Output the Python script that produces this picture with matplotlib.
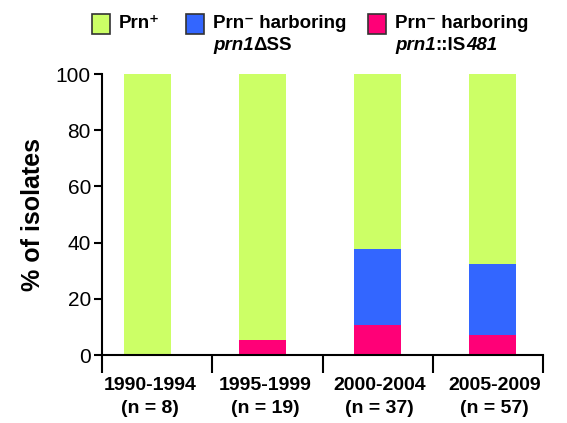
import numpy as np
import matplotlib
matplotlib.use('Agg')
import matplotlib.pyplot as plt
from matplotlib.patches import Rectangle

plt.rcParams['font.family'] = ['Liberation Sans', 'DejaVu Sans']

periods = ['1990-1994', '1995-1999', '2000-2004', '2005-2009']
counts = [8, 19, 37, 57]
is481 = np.array([0, 5.3, 10.8, 7.0])      # Prn- harboring prn1::IS481
dss = np.array([0, 0, 27.0, 25.4])         # Prn- harboring prn1dSS
prn_pos = 100 - is481 - dss                # Prn+

green = '#CCFF66'
blue = '#3366FF'
pink = '#FF0077'

fig = plt.figure(figsize=(5.67, 4.23), dpi=100)
ax = fig.add_axes([102/567, 1-355/423, 441/567, 281/423])

x = np.arange(len(periods))
w = 0.41
ax.bar(x, is481, w, color=pink, edgecolor='none')
ax.bar(x, dss, w, bottom=is481, color=blue, edgecolor='none')
ax.bar(x, prn_pos, w, bottom=is481 + dss, color=green, edgecolor='none')

x0, x1 = -0.396, 3.439
ax.set_xlim(x0, x1)
ax.set_ylim(0, 100)
bounds = np.linspace(x0, x1, 5)
ax.set_xticks(bounds)
ax.set_xticklabels([])
for xi, p, n in zip(x, periods, counts):
    ax.text(xi + 0.02, -8, '%s\n(n = %d)' % (p, n),
            ha='center', va='top', fontsize=14, fontweight='bold',
            transform=ax.transData, linespacing=1.4)
ax.set_yticks([0, 20, 40, 60, 80, 100])
ax.tick_params(axis='y', labelsize=15, length=6, width=1.5, pad=2)
ax.tick_params(axis='x', length=13, width=1.5)
for s in ['top', 'right']:
    ax.spines[s].set_visible(False)
for s in ['left', 'bottom']:
    ax.spines[s].set_linewidth(1.5)
ax.set_ylabel('% of isolates', fontsize=18, fontweight='bold', labelpad=8)

# legend, drawn piece by piece so italics can mix with upright text
renderer = fig.canvas.get_renderer()

def put_line(px, py, pieces):
    for s, style in pieces:
        t = fig.text(px/567, 1-py/423, s, fontsize=13.5, fontweight='bold',
                     fontstyle=style, va='center', ha='left')
        px += t.get_window_extent(renderer).width

items = [(92, green, [('Prn\u207a', 'normal')], None),
         (186, blue, [('Prn\u207b harboring', 'normal')],
          [('prn1', 'italic'), ('\u0394SS', 'normal')]),
         (368, pink, [('Prn\u207b harboring', 'normal')],
          [('prn1', 'italic'), ('::IS', 'normal'), ('481', 'italic')])]
for lx, c, l1, l2 in items:
    fig.patches.append(Rectangle((lx/567, 1-34/423), 18/567, 20/423,
                                 transform=fig.transFigure, facecolor=c,
                                 edgecolor='#333333', linewidth=1.2))
    put_line(lx + 27, 24, l1)
    if l2:
        put_line(lx + 27, 45, l2)

fig.savefig('out.png', dpi=100)
